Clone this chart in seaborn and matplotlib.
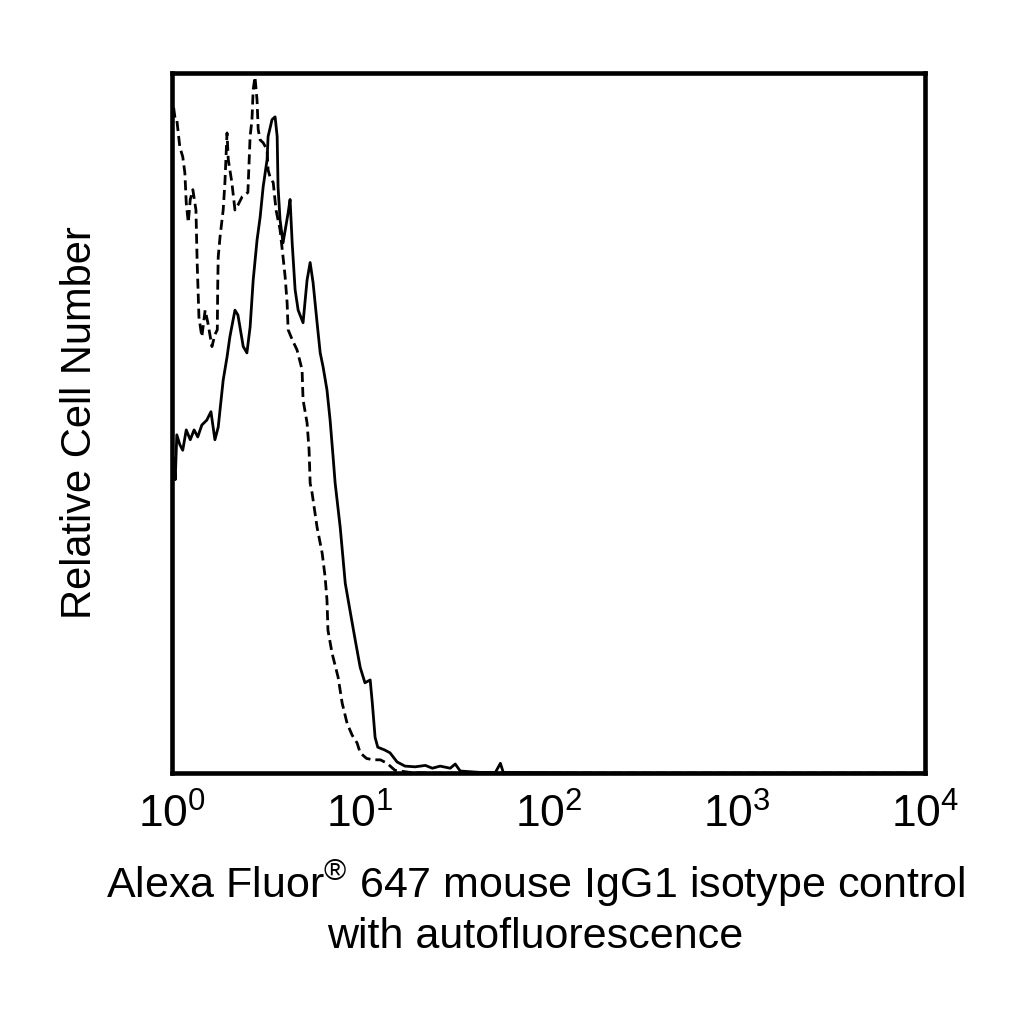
import numpy             as np
import matplotlib
matplotlib.use('Agg')
import matplotlib.pyplot as plt
import seaborn           as sns

# ---- data (fluorescence, relative count 0-100) ----
solid_x = [1.02, 1.04, 1.06, 1.10, 1.14, 1.19, 1.25, 1.31, 1.37, 1.44, 1.53, 1.61,
           1.69, 1.76, 1.80, 1.87, 1.96, 2.03, 2.16, 2.24, 2.39, 2.50, 2.60, 2.70,
           2.83, 2.94, 3.05, 3.20, 3.24, 3.40, 3.53, 3.62, 3.66, 3.75, 3.89, 4.14,
           4.24, 4.35, 4.51, 4.68, 4.97, 5.22, 5.42, 5.62, 5.90, 6.13, 6.35, 6.66,
           6.92, 7.18, 7.36, 7.83, 8.33, 8.87, 9.41, 10.0, 10.6, 11.3, 11.6, 12.0,
           12.4, 13.5, 14.4, 15.7, 17.3, 19.6, 22.2, 24.2, 26.6, 30.1, 32.0, 34.0,
           43.4, 52.3, 55.6, 57.6, 188.0, 10000.0]
solid_y = [45.0, 41.9, 48.3, 46.9, 46.1, 49.0, 47.6, 49.0, 48.0, 49.7, 50.4, 51.6,
           47.6, 49.4, 51.9, 56.1, 59.4, 62.3, 66.1, 65.4, 60.9, 60.0, 63.7, 70.4,
           76.1, 79.4, 83.7, 87.6, 90.9, 93.3, 93.7, 90.9, 83.7, 79.0, 75.7, 80.0,
           81.9, 75.7, 69.0, 66.1, 64.3, 70.4, 72.9, 70.0, 64.3, 60.0, 58.0, 54.7,
           50.4, 45.1, 41.4, 35.1, 27.1, 22.9, 19.0, 15.1, 12.9, 13.3, 10.0, 5.1,
           3.7, 3.3, 2.9, 1.6, 1.0, 0.9, 1.1, 0.7, 1.0, 0.7, 1.3, 0.3,
           0.1, 0.1, 1.4, 0.1, 0.0, 0.0]

dashed_x = [1.02, 1.04, 1.06, 1.10, 1.14, 1.17, 1.19, 1.22, 1.25, 1.29, 1.34, 1.36,
            1.39, 1.44, 1.50, 1.55, 1.63, 1.69, 1.74, 1.75, 1.76, 1.80, 1.87, 1.91,
            1.96, 1.99, 2.08, 2.16, 2.24, 2.36, 2.53, 2.60, 2.66, 2.70, 2.76, 2.83,
            2.87, 2.94, 3.05, 3.20, 3.24, 3.32, 3.45, 3.57, 3.75, 3.89, 3.99, 4.09,
            4.14, 4.35, 4.62, 4.91, 4.97, 5.22, 5.35, 5.42, 5.55, 5.90, 6.28, 6.51,
            6.66, 6.74, 7.09, 7.63, 8.02, 8.52, 9.07, 9.63, 10.0, 10.8, 11.7, 12.8,
            13.9, 15.3, 18.4, 23.5, 10000.0]
dashed_y = [95.0, 93.3, 93.3, 89.4, 88.0, 85.7, 81.4, 78.6, 81.9, 83.3, 80.4, 72.9,
            65.1, 62.3, 66.1, 64.3, 60.9, 62.6, 63.3, 70.0, 73.7, 76.6, 80.4, 84.3,
            91.4, 87.6, 84.3, 80.4, 81.1, 82.3, 82.9, 90.9, 93.3, 97.6, 99.4, 96.1,
            91.9, 90.4, 90.0, 89.0, 86.1, 85.1, 84.3, 80.4, 77.6, 73.7, 70.9, 67.1,
            63.3, 61.9, 60.4, 57.6, 53.3, 50.0, 46.1, 41.4, 40.0, 35.1, 31.4, 28.0,
            24.7, 20.4, 17.1, 13.7, 10.0, 7.1, 5.4, 4.3, 2.9, 2.1, 1.9, 1.9,
            1.4, 0.4, 0.1, 0.0, 0.0]

x_ticks       = [1, 10, 100, 1000, 10000]
x_tick_labels = ['$10^{0}$', '$10^{1}$', '$10^{2}$', '$10^{3}$', '$10^{4}$']
x_title       = 'Alexa Fluor$^{®}$ 647 mouse IgG1 isotype control\nwith autofluorescence'
y_title       = 'Relative Cell Number'

sns.set_style('white')
plt.rcParams['font.family']      = ['Liberation Sans', 'DejaVu Sans']
plt.rcParams['mathtext.fontset'] = 'custom'
plt.rcParams['mathtext.rm']      = 'Liberation Sans'
plt.rcParams['mathtext.it']      = 'Liberation Sans:italic'
plt.rcParams['mathtext.bf']      = 'Liberation Sans:bold'
plt.rcParams['mathtext.default'] = 'regular'
plt.rcParams['text.color']       = 'black'
plt.rcParams['axes.labelcolor']  = 'black'
plt.rcParams['xtick.color']      = 'black'
plt.rcParams['ytick.color']      = 'black'

fig = plt.figure(figsize = (10.24, 10.24), dpi = 100)
ax  = fig.add_axes([0.168, 0.245, 0.735, 0.684])

sns.lineplot(x = dashed_x, y = dashed_y, ax = ax, color = 'black',
             linewidth = 2.0, linestyle = (0, (3.6, 1.8)), estimator = None, sort = False)
sns.lineplot(x = solid_x, y = solid_y, ax = ax, color = 'black',
             linewidth = 2.0, estimator = None, sort = False)

ax.set_xscale('log')
ax.set_xlim(1, 10000)
ax.set_ylim(0, 100)
ax.set_xticks(x_ticks)
ax.set_xticklabels(x_tick_labels)
ax.minorticks_off()
ax.set_yticks([])
ax.tick_params(axis = 'x', length = 0, pad = 15, labelsize = 32)

for s in ax.spines.values():
    s.set_visible(True)
    s.set_linewidth(3.3)
    s.set_color('black')

ax.set_xlabel(x_title, fontsize = 31, labelpad = 16, linespacing = 1.25)
ax.xaxis.label.set_x(0.483)
ax.set_ylabel(y_title, fontsize = 30, labelpad = 52)

fig.savefig('out.png', dpi = 100, facecolor = 'white')
